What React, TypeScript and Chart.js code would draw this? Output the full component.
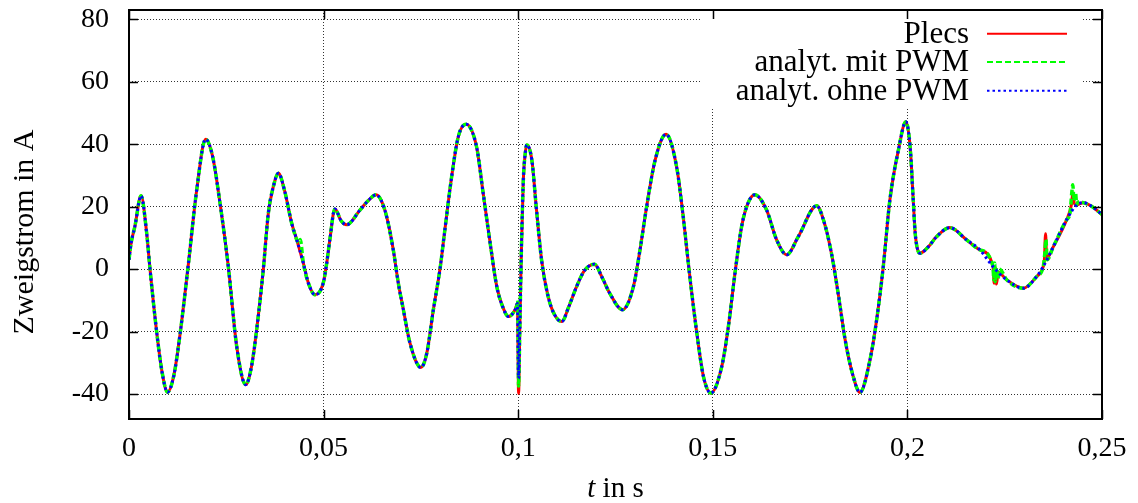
import React, { useEffect, useRef } from "react";
import { Chart, registerables } from "chart.js";

Chart.register(...registerables);

// time in seconds
const timeS = [
  0, 0.0005, 0.0015, 0.0031, 0.0045, 0.0054, 0.0071, 0.0085, 0.0099, 0.0115,
  0.0131, 0.0152, 0.0174, 0.0197, 0.0215, 0.0234, 0.0255, 0.0277, 0.03, 0.0315,
  0.0328, 0.0345, 0.0358, 0.037, 0.0384, 0.04, 0.0418, 0.0431, 0.0448, 0.0461,
  0.0478, 0.0499, 0.0508, 0.0516, 0.0529, 0.0545, 0.0559, 0.0594, 0.0615, 0.0635,
  0.0648, 0.0662, 0.0679, 0.0692, 0.0705, 0.0722, 0.075, 0.0765, 0.0782, 0.0799,
  0.0812, 0.0829, 0.0846, 0.0866, 0.0893, 0.091, 0.0928, 0.0945, 0.096, 0.0975,
  0.0992, 0.0998, 0.1001, 0.1004, 0.1008, 0.1013, 0.1018, 0.1022, 0.1035, 0.1047,
  0.106, 0.1077, 0.1093, 0.1112, 0.113, 0.115, 0.117, 0.1196, 0.1215, 0.1235,
  0.1268, 0.1296, 0.1313, 0.133, 0.1352, 0.138, 0.1407, 0.1424, 0.1441, 0.1459,
  0.1476, 0.1495, 0.1523, 0.154, 0.1557, 0.1574, 0.159, 0.1608, 0.1638, 0.1664,
  0.169, 0.172, 0.1767, 0.1785, 0.1805, 0.1823, 0.184, 0.186, 0.1878, 0.1904,
  0.1921, 0.1938, 0.1955, 0.1977, 0.1996, 0.2007, 0.2015, 0.202, 0.2032, 0.2054,
  0.2075, 0.2109, 0.2152, 0.2186, 0.222, 0.2255, 0.2298, 0.2332, 0.2349, 0.2375,
  0.2409, 0.2435, 0.2452, 0.2475, 0.25,
];

// "analyt. ohne PWM" (smooth trace)
const ohnePwm = [
  3, 8, 13.6, 23.5, 12, 0, -20, -33, -39.4, -34.2,
  -21, 1, 25.4, 41.6, 36, 21, 1, -25, -37, -31,
  -19.4, -0.2, 17.9, 26, 30.7, 25, 14.7, 9.4, 1.9, -4.5,
  -8.2, -4.5, 1.9, 9.4, 19.3, 15.5, 14.2, 19, 22, 23.8,
  22, 16.8, 6.2, -4.5, -13, -23.7, -31.5, -27, -13, 0,
  13, 29.6, 42.4, 46.4, 39.2, 24.3, 8.3, -5.6, -12, -15.2,
  -13, -11, -35, -20, 5, 28, 37, 39.8, 35, 19,
  3, -8.8, -14.5, -16.8, -12, -5.6, -0.5, 1.6, -2.5, -7.7,
  -13, -5.6, 6.2, 20, 35, 43.2, 32.8, 16.8, -2.4, -20.5,
  -34.4, -39.7, -31.2, -18.4, -1.3, 13.6, 21, 23.8, 19, 9.4,
  4.6, 10.5, 20.3, 15.5, 5, -8.5, -22.6, -34, -39.5, -29,
  -16.2, 0.8, 22.2, 38.2, 47.2, 39.2, 22.2, 11.5, 5.1, 7.2,
  10.4, 13.3, 9.4, 6.2, 0.8, -3.4, -6.1, -2.4, 0.8, 7.2,
  15.8, 20.6, 21.3, 20, 17.5,
];

// points where the Plecs simulation departs from the smooth trace [t, i]
const plecsDev: [number, number][] = [
  [0.1001, -39.8],
  [0.2223, -4.5], [0.2226, 0.5], [0.2229, -4.8], [0.2233, -1],
  [0.2352, 3], [0.2355, 11.3], [0.2358, 3.5],
  [0.2422, 21], [0.2425, 24.5], [0.2429, 21],
];

// points where "analyt. mit PWM" departs from the smooth trace [t, i]
const mitPwmDev: [number, number][] = [
  [0.0436, 8.5], [0.044, 9.5],
  [0.0999, -10], [0.1001, -37.5],
  [0.2222, -3.5], [0.2224, 2], [0.2226, -4], [0.2229, 0.5], [0.2233, -3], [0.2237, 0],
  [0.2353, 5], [0.2356, 9.5], [0.2359, 3],
  [0.2418, 18], [0.2422, 24], [0.2425, 27], [0.2428, 22], [0.2432, 24.5], [0.2438, 21.5],
];

const yTicks = [-40, -20, 0, 20, 40, 60, 80];
const xTicks = [0, 0.05, 0.1, 0.15, 0.2, 0.25];
const xTickLabels = ["0", "0,05", "0,1", "0,15", "0,2", "0,25"];
const legendLabels = ["Plecs", "analyt. mit PWM", "analyt. ohne PWM"];
const yTitle = "Zweigstrom in A";
const xTitleVar = "t";
const xTitleRest = " in s";

const FONT = "'Liberation Serif', 'Times New Roman', serif";

function buildSeries(dev: [number, number][]) {
  const pts = timeS.map((t, i) => ({ x: t, y: ohnePwm[i] }));
  dev.forEach(([t, v]) => {
    const j = pts.findIndex((p) => Math.abs(p.x - t) < 1e-9);
    if (j >= 0) pts[j] = { x: t, y: v };
    else pts.push({ x: t, y: v });
  });
  pts.sort((a, b) => a.x - b.x);
  return pts;
}

const decoPlugin = {
  id: "deco",
  beforeDatasetsDraw(chart: any) {
    const { ctx, chartArea: a } = chart;
    ctx.save();
    ctx.fillStyle = "#ffffff";
    ctx.fillRect(700, a.top + 1, 1082 - 700, 108 - a.top);
    ctx.restore();
  },
  afterDatasetsDraw(chart: any) {
    const { ctx, chartArea: a, scales } = chart;
    const xs = scales.x;
    const ys = scales.y;
    ctx.save();
    // inward tick marks
    ctx.strokeStyle = "#000";
    ctx.lineWidth = 1.5;
    ctx.setLineDash([]);
    const tl = 9;
    xTicks.forEach((v) => {
      const px = Math.round(xs.getPixelForValue(v)) + 0.5;
      ctx.beginPath();
      ctx.moveTo(px, a.bottom);
      ctx.lineTo(px, a.bottom - tl);
      ctx.moveTo(px, a.top);
      ctx.lineTo(px, a.top + tl);
      ctx.stroke();
    });
    yTicks.forEach((v) => {
      const py = Math.round(ys.getPixelForValue(v)) + 0.5;
      ctx.beginPath();
      ctx.moveTo(a.left, py);
      ctx.lineTo(a.left + tl, py);
      ctx.moveTo(a.right, py);
      ctx.lineTo(a.right - tl, py);
      ctx.stroke();
    });
    // border
    ctx.lineWidth = 2;
    ctx.strokeRect(a.left, a.top, a.right - a.left, a.bottom - a.top);

    // legend
    const rowsY = [33.7, 62, 90.7];
    ctx.font = `31px ${FONT}`;
    ctx.fillStyle = "#000";
    ctx.textAlign = "right";
    ctx.textBaseline = "alphabetic";
    chart.data.datasets.forEach((ds: any, i: number) => {
      const y = rowsY[i];
      ctx.fillText(legendLabels[i], 969, y + 9);
      ctx.beginPath();
      ctx.strokeStyle = ds.borderColor;
      ctx.lineWidth = 2;
      ctx.setLineDash(ds.borderDash || []);
      ctx.moveTo(987, y);
      ctx.lineTo(1067, y);
      ctx.stroke();
    });
    ctx.setLineDash([]);

    // y title
    ctx.save();
    ctx.translate(25, 232);
    ctx.rotate(-Math.PI / 2);
    ctx.textAlign = "center";
    ctx.textBaseline = "middle";
    ctx.font = `30px ${FONT}`;
    ctx.fillText(yTitle, 0, 0);
    ctx.restore();

    // x title with italic variable
    const cx = (a.left + a.right) / 2;
    ctx.textAlign = "left";
    ctx.textBaseline = "alphabetic";
    ctx.font = `italic 29px ${FONT}`;
    const w1 = ctx.measureText(xTitleVar).width;
    ctx.font = `29px ${FONT}`;
    const w2 = ctx.measureText(xTitleRest).width;
    const x0 = cx - (w1 + w2) / 2;
    ctx.font = `italic 29px ${FONT}`;
    ctx.fillText(xTitleVar, x0, 497);
    ctx.font = `29px ${FONT}`;
    ctx.fillText(xTitleRest, x0 + w1, 497);
    ctx.restore();
  },
};

export default function App() {
  const ref = useRef<HTMLCanvasElement | null>(null);

  useEffect(() => {
    if (!ref.current) return;
    const chart = new Chart(ref.current, {
      type: "line",
      data: {
        datasets: [
          {
            label: legendLabels[0],
            data: buildSeries(plecsDev),
            borderColor: "#ff0000",
            borderWidth: 3,
            borderDash: [],
            order: 3,
          },
          {
            label: legendLabels[1],
            data: buildSeries(mitPwmDev),
            borderColor: "#00ff00",
            borderWidth: 3.5,
            borderDash: [6, 3],
            order: 2,
          },
          {
            label: legendLabels[2],
            data: buildSeries([]),
            borderColor: "#0000ff",
            borderWidth: 3,
            borderDash: [2.5, 3],
            order: 1,
          },
        ] as any,
      },
      options: {
        animation: false,
        responsive: false,
        parsing: false as any,
        layout: { padding: { top: 10, right: 36, bottom: 0, left: 0 } },
        elements: {
          point: { radius: 0, hitRadius: 0 },
          line: { cubicInterpolationMode: "monotone", fill: false },
        },
        plugins: {
          legend: { display: false },
          tooltip: { enabled: false },
        },
        scales: {
          x: {
            type: "linear",
            min: 0,
            max: 0.25,
            afterBuildTicks: (s: any) => {
              s.ticks = xTicks.map((v) => ({ value: v }));
            },
            afterFit: (s: any) => {
              s.height = 84;
              s.paddingLeft = 0;
              s.paddingRight = 0;
              s.paddingTop = 0;
              s.paddingBottom = 0;
            },
            ticks: {
              autoSkip: false,
              maxRotation: 0,
              padding: 13,
              color: "#000",
              font: { family: FONT, size: 28 },
              callback: (_v: any, i: number) => xTickLabels[i],
            },
            grid: {
              color: "#333",
              lineWidth: 1,
              drawTicks: false,
            },
            border: { display: false, dash: [1, 2] },
          },
          y: {
            type: "linear",
            min: -48,
            max: 83,
            afterBuildTicks: (s: any) => {
              s.ticks = yTicks.map((v) => ({ value: v }));
            },
            afterFit: (s: any) => {
              s.width = 129;
              s.paddingTop = 0;
              s.paddingBottom = 0;
              s.paddingLeft = 0;
              s.paddingRight = 0;
            },
            ticks: {
              padding: 20,
              color: "#000",
              font: { family: FONT, size: 28 },
              callback: (v: any) => String(v),
            },
            grid: {
              color: "#333",
              lineWidth: 1,
              drawTicks: false,
            },
            border: { display: false, dash: [1, 2] },
          },
        },
      },
      plugins: [decoPlugin],
    } as any);
    return () => chart.destroy();
  }, []);

  return (
    <div style={{ position: "absolute", left: 0, top: 0, width: 1138, height: 503, background: "#fff" }}>
      <canvas ref={ref} width={1138} height={503} />
    </div>
  );
}
